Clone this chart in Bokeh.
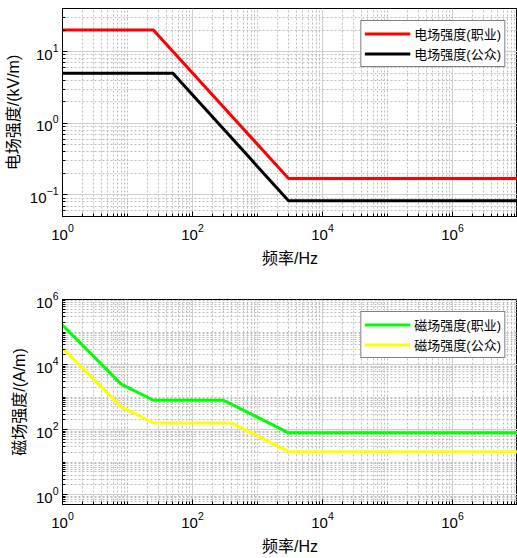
from bokeh.plotting import figure
from bokeh.models import FixedTicker, LogTickFormatter, Legend, LegendItem, Range1d
from bokeh.layouts import column
from bokeh.embed import file_html
from bokeh.resources import INLINE

# ---- data (reference levels) ----
e_freq_occ = [1, 25, 3000, 1e7]
e_occ = [20, 20, 0.17, 0.17]
e_freq_pub = [1, 50, 3000, 1e7]
e_pub = [5, 5, 0.083, 0.083]

h_freq_occ = [1, 8, 25, 300, 3000, 1e7]
h_occ = [1.63e5, 2500, 800, 800, 80, 80]
h_freq_pub = [1, 8, 25, 400, 3000, 1e7]
h_pub = [3.2e4, 500, 160, 160, 21, 21]

e_labels = ["电场强度(职业)", "电场强度(公众)"]
h_labels = ["磁场强度(职业)", "磁场强度(公众)"]
x_label = "频率/Hz"
e_ylabel = "电场强度/(kV/m)"
h_ylabel = "磁场强度/(A/m)"

x_major = [1e0, 1e2, 1e4, 1e6]
e_major = [1e-1, 1e0, 1e1]
h_major = [1e0, 1e2, 1e4, 1e6]

LAT = "Liberation Sans"
CJK = "Liberation Sans, Noto Sans CJK SC"


def minors(lo, hi, majors):
    out = []
    for n in range(-3, 9):
        for k in range(1, 10):
            v = k * 10.0 ** n
            if lo * 0.999 <= v <= hi * 1.001 and not any(abs(v - m) / m < 1e-9 for m in majors):
                out.append(v)
    return out


def style(p, xmaj, ymaj, xlo, xhi, ylo, yhi, ylabel):
    p.xaxis.ticker = FixedTicker(ticks=xmaj, minor_ticks=minors(xlo, xhi, xmaj))
    p.yaxis.ticker = FixedTicker(ticks=ymaj, minor_ticks=minors(ylo, yhi, ymaj))
    for ax in (p.xaxis[0], p.yaxis[0]):
        ax.formatter = LogTickFormatter()
        ax.major_tick_in = 5
        ax.major_tick_out = 0
        ax.minor_tick_in = 3
        ax.minor_tick_out = 0
        ax.axis_line_color = "black"
        ax.major_tick_line_color = "black"
        ax.minor_tick_line_color = "black"
        ax.major_label_text_font = LAT
        ax.major_label_text_font_size = "15px"
        ax.major_label_text_color = "black"
        ax.axis_label_text_font = CJK
        ax.axis_label_text_font_size = "16px"
        ax.axis_label_text_font_style = "normal"
        ax.axis_label_text_color = "black"
    p.xaxis.major_label_standoff = 7
    p.xaxis.axis_label_standoff = 7
    p.yaxis.major_label_standoff = 4
    p.yaxis.axis_label_standoff = 5
    p.xaxis.axis_label = x_label
    p.yaxis.axis_label = ylabel
    for g in (p.xgrid[0], p.ygrid[0]):
        g.grid_line_color = "#cfcfcf"
        g.grid_line_width = 1
        g.minor_grid_line_color = "#bdbdbd"
        g.minor_grid_line_dash = "2 2"
        g.minor_grid_line_width = 1
    p.outline_line_color = "black"
    p.outline_line_width = 1
    p.background_fill_color = "white"
    p.border_fill_color = "white"


def add_legend(p, renderers, labels):
    leg = Legend(items=[LegendItem(label=l, renderers=[r]) for l, r in zip(labels, renderers)],
                 location="top_right")
    leg.margin = 12
    leg.padding = 3
    leg.spacing = 1
    leg.glyph_width = 46
    leg.glyph_height = 15
    leg.label_height = 15
    leg.label_standoff = 4
    leg.label_text_font = CJK
    leg.label_text_font_size = "13px"
    leg.label_text_color = "black"
    leg.border_line_color = "black"
    leg.border_line_width = 1
    leg.background_fill_color = "white"
    leg.background_fill_alpha = 1
    p.add_layout(leg, "center")


# ---- top: electric field ----
p1 = figure(width=517, height=278, x_axis_type="log", y_axis_type="log",
            x_range=Range1d(1, 1e7), y_range=Range1d(0.05, 40),
            output_backend="svg", toolbar_location=None,
            min_border_left=62, min_border_right=0, min_border_top=8, min_border_bottom=62)
style(p1, x_major, e_major, 1, 1e7, 0.05, 40, e_ylabel)
r1 = p1.line(e_freq_occ, e_occ, line_color="#ff0000", line_width=3)
r2 = p1.line(e_freq_pub, e_pub, line_color="#000000", line_width=3)
add_legend(p1, [r1, r2], e_labels)

# ---- bottom: magnetic field ----
p2 = figure(width=517, height=279, x_axis_type="log", y_axis_type="log",
            x_range=Range1d(1, 1e7), y_range=Range1d(0.5, 1e6),
            output_backend="svg", toolbar_location=None,
            min_border_left=62, min_border_right=0, min_border_top=21, min_border_bottom=50)
style(p2, x_major, h_major, 1, 1e7, 0.5, 1e6, h_ylabel)
r3 = p2.line(h_freq_occ, h_occ, line_color="#00ff00", line_width=3)
r4 = p2.line(h_freq_pub, h_pub, line_color="#ffff00", line_width=3)
add_legend(p2, [r3, r4], h_labels)

layout = column(p1, p2, spacing=0)
open("out.html", "w").write(file_html(layout, INLINE))
